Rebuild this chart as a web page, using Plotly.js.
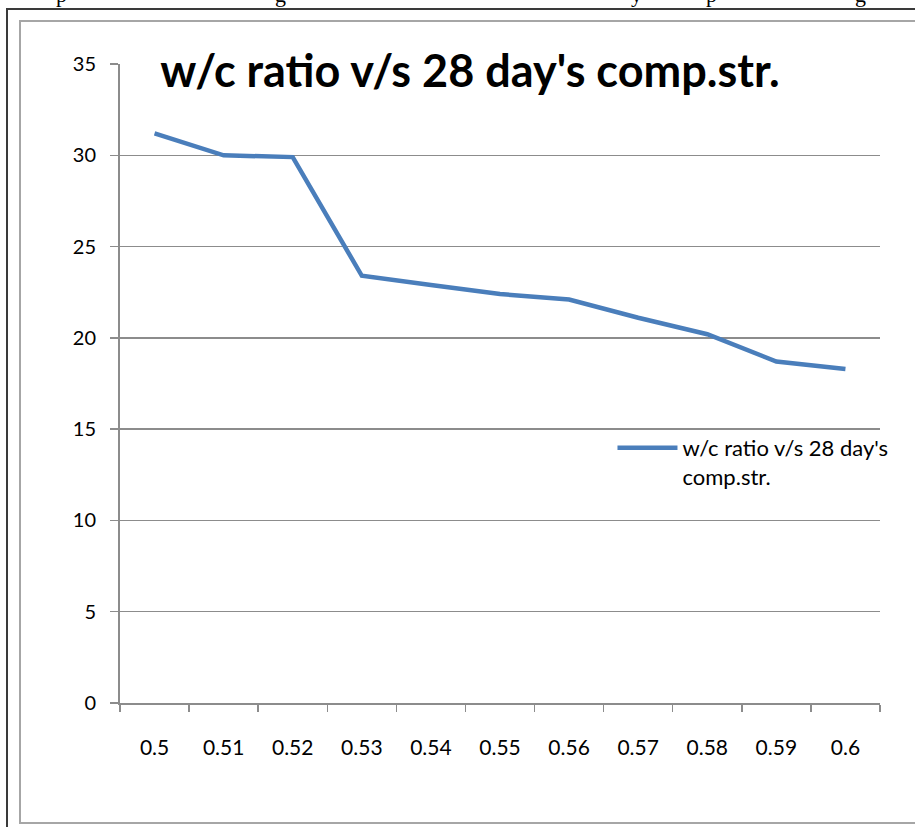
<!DOCTYPE html>
<html>
<head>
<meta charset="utf-8">
<script src="https://cdn.plot.ly/plotly-3.0.1.min.js"></script>
<style>
  html, body { margin: 0; padding: 0; width: 915px; height: 827px; overflow: hidden; background: #fff; }
  #frameOuter { position: absolute; left: 6px; top: 8px; width: 1000px; height: 900px;
    border-left: 2px solid #3a3a3a; border-top: 2px solid #3a3a3a; }
  #frameInner { position: absolute; left: 19px; top: 20px; width: 1000px; height: 800px;
    border-left: 2px solid #a6a6a6; border-top: 2px solid #a6a6a6; border-bottom: 2px solid #a6a6a6; }
  .frag { position: absolute; font-family: "Liberation Serif", serif; font-size: 22px; line-height: 22px; top: -16px; color: #000; }
  #chart { position: absolute; left: 0; top: 0; width: 915px; height: 827px; }
</style>
</head>
<body>
<span class="frag" style="left:56px">p</span>
<span class="frag" style="left:275px">g</span>
<span class="frag" style="left:631px">y</span>
<span class="frag" style="left:706px">p</span>
<span class="frag" style="left:855px">g</span>
<div id="frameOuter"></div>
<div id="frameInner"></div>
<div id="chart"></div>
<script>
// w/c ratio categories
const wcRatio = ['0.5', '0.51', '0.52', '0.53', '0.54', '0.55', '0.56', '0.57', '0.58', '0.59', '0.6'];
// 28 day's compressive strength values
const compStrength = [31.2, 30.0, 29.9, 23.4, 22.9, 22.4, 22.1, 21.1, 20.2, 18.7, 18.3];
const yTicks = [0, 5, 10, 15, 20, 25, 30, 35];
const seriesName = "w/c ratio v/s 28 day's<br>comp.str.";
const chartTitle = "w/c ratio v/s 28 day's comp.str.";

const fontFam = 'Lato, "Open Sans", sans-serif';
const gray = '#8c8c8c';

const trace = {
  x: wcRatio,
  y: compStrength,
  type: 'scatter',
  mode: 'lines',
  name: seriesName,
  line: { color: '#4a7ebb', width: 4.5 },
  hoverinfo: 'x+y'
};

const layout = {
  width: 915,
  height: 827,
  margin: { l: 120, r: 35, t: 64, b: 124 },
  paper_bgcolor: 'rgba(0,0,0,0)',
  plot_bgcolor: 'rgba(0,0,0,0)',
  title: {
    text: '<b>' + chartTitle + '</b>',
    font: { family: fontFam, size: 45, color: '#000' },
    xref: 'container', x: 470 / 915, xanchor: 'center',
    yref: 'container', y: 1 - 71 / 827, yanchor: 'middle'
  },
  showlegend: true,
  legend: {
    x: 0.648, xanchor: 'left', y: 0.432, yanchor: 'top',
    bgcolor: 'rgba(0,0,0,0)',
    font: { family: fontFam, size: 22, color: '#000' },
    valign: 'top',
    itemwidth: 60
  },
  xaxis: {
    type: 'category',
    range: [-0.5, 10.5],
    tickson: 'boundaries',
    ticks: 'outside', ticklen: 7, tickwidth: 1.5, tickcolor: gray,
    showline: true, linecolor: gray, linewidth: 2,
    showgrid: false, zeroline: false,
    ticklabelstandoff: 25,
    tickfont: { family: fontFam, size: 21, color: '#000' }
  },
  yaxis: {
    range: [0, 35],
    tickvals: yTicks,
    ticktext: yTicks.map(String),
    ticks: 'outside', ticklen: 8, tickwidth: 1.5, tickcolor: gray,
    showline: true, linecolor: gray, linewidth: 2,
    showgrid: true, gridcolor: gray, gridwidth: 1.5,
    zeroline: false,
    ticklabelstandoff: 10,
    tickfont: { family: fontFam, size: 20, color: '#000' }
  }
};

Plotly.newPlot('chart', [trace], layout, { displayModeBar: false, staticPlot: true });
</script>
</body>
</html>
